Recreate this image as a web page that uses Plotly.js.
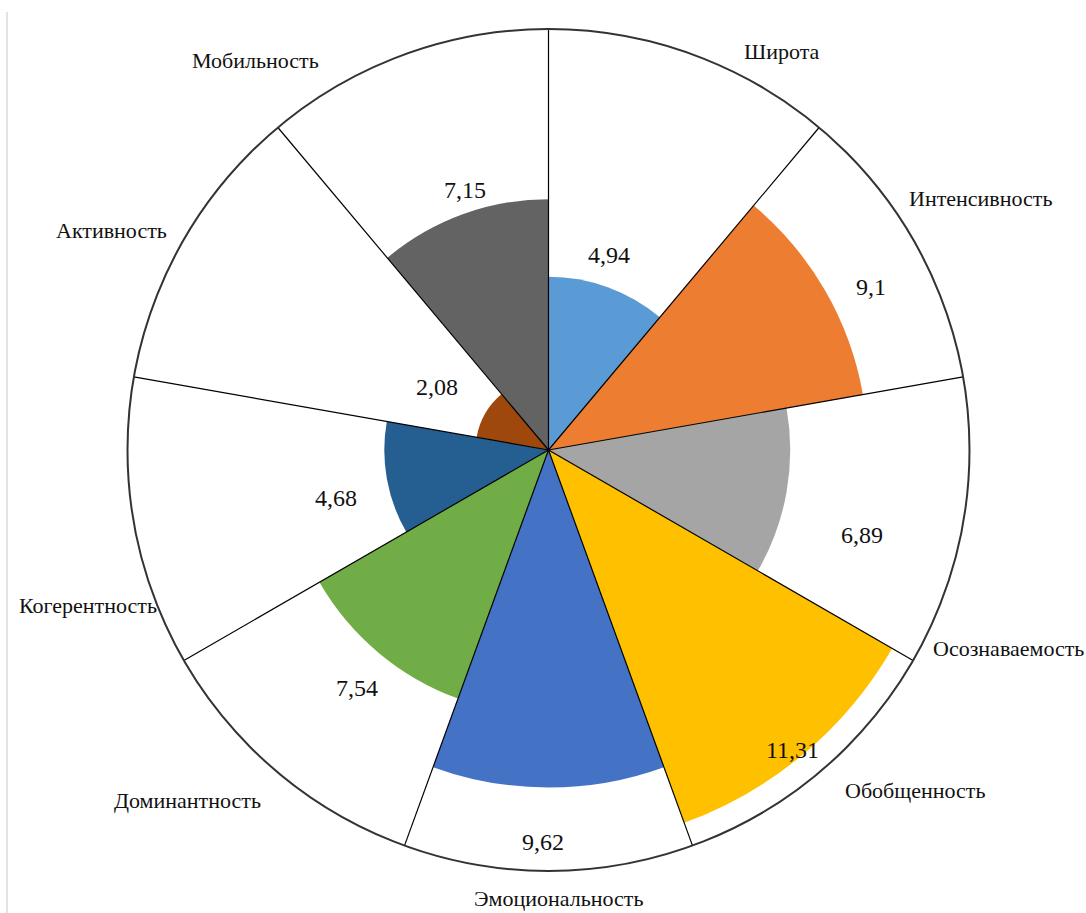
<!DOCTYPE html>
<html>
<head>
<meta charset="utf-8">
<script src="https://cdn.plot.ly/plotly-3.0.1.min.js"></script>
<style>html,body{margin:0;padding:0;background:#fff;}#chart{width:1086px;height:913px;}</style>
</head>
<body>
<div id="chart"></div>
<script>
// ---- data ----
const categories = ["Широта","Интенсивность","Осознаваемость","Обобщенность","Эмоциональность","Доминантность","Когерентность","Активность","Мобильность"];
const values = [4.94, 9.1, 6.89, 11.31, 9.62, 7.54, 4.68, 2.08, 7.15];
const valueLabels = ["4,94","9,1","6,89","11,31","9,62","7,54","4,68","2,08","7,15"];
const colors = ["#5B9BD5","#ED7D31","#A5A5A5","#FFC000","#4472C4","#70AD47","#255E91","#9E480E","#636363"];
const rMax = 12;

// ---- layout helpers (pixel placement of text labels) ----
const W = 1086, H = 913;
const catLabelPx = [[782,52],[980,198],[1008,648],[915,790],[558,898],[187,800],[88,605],[111,230],[255,60]];
const valLabelPx = [[609,255],[871,287],[862,535],[792,750],[543,842],[357,688],[336,498],[437,387],[465,190]];

const n = categories.length;
const step = 360 / n;
const thetaCenters = categories.map((_, i) => i * step + step / 2);

const bars = {
  type: "barpolar",
  r: values,
  theta: thetaCenters,
  width: categories.map(() => step),
  marker: {color: colors, line: {width: 0}},
  text: categories,
  hoverinfo: "text+r",
  showlegend: false
};

// sector boundary lines
const bTheta = [], bR = [];
for (let i = 0; i < n; i++) {
  bTheta.push(i * step, i * step, null);
  bR.push(0, rMax, null);
}
const boundaries = {
  type: "scatterpolar",
  mode: "lines",
  r: bR,
  theta: bTheta,
  line: {color: "#000", width: 1.2},
  hoverinfo: "skip",
  showlegend: false
};

const cx = 548.5, cy = 450, rad = 421;
const fontFam = "Liberation Serif, Times New Roman, serif";
const annotations = [];
categories.forEach((c, i) => {
  annotations.push({
    text: c, xref: "paper", yref: "paper",
    x: catLabelPx[i][0] / W, y: 1 - catLabelPx[i][1] / H,
    xanchor: "center", yanchor: "middle", showarrow: false,
    font: {family: fontFam, size: 22, color: "#111"}
  });
  annotations.push({
    text: valueLabels[i], xref: "paper", yref: "paper",
    x: valLabelPx[i][0] / W, y: 1 - valLabelPx[i][1] / H,
    xanchor: "center", yanchor: "middle", showarrow: false,
    font: {family: fontFam, size: 24, color: "#111"}
  });
});

const layout = {
  width: W, height: H,
  margin: {l: 0, r: 0, t: 0, b: 0},
  paper_bgcolor: "#fff",
  showlegend: false,
  polar: {
    domain: {x: [(cx - rad) / W, (cx + rad) / W], y: [(H - cy - rad) / H, (H - cy + rad) / H]},
    bgcolor: "#fff",
    bargap: 0,
    radialaxis: {range: [0, rMax], visible: false},
    angularaxis: {
      direction: "clockwise", rotation: 90,
      showgrid: false, showticklabels: false, ticks: "",
      showline: true, linecolor: "#333", linewidth: 2
    }
  },
  annotations: annotations,
  shapes: [{type: "line", xref: "paper", yref: "paper", x0: 7 / W, x1: 7 / W, y0: 0, y1: 1 - 12 / H, line: {color: "#e2e2e2", width: 2}}]
};

Plotly.newPlot("chart", [bars, boundaries], layout, {displayModeBar: false, staticPlot: true});
</script>
</body>
</html>
